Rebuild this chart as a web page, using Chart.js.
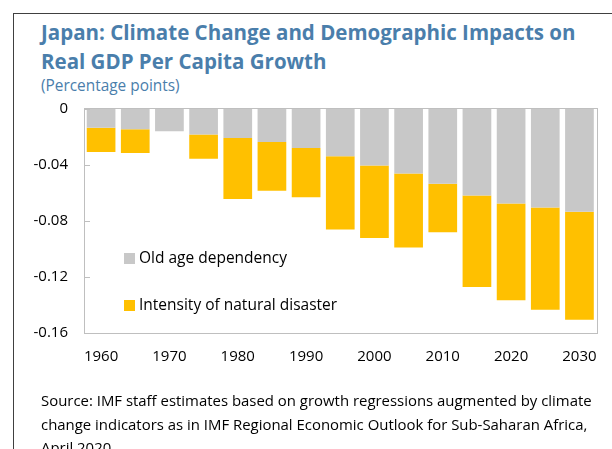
<!DOCTYPE html>
<html>
<head>
<meta charset="utf-8">
<script src="https://cdn.jsdelivr.net/npm/chart.js@4.4.1/dist/chart.umd.min.js"></script>
<style>
  html, body { margin: 0; padding: 0; width: 612px; height: 449px; overflow: hidden; background: #fff; }
  #frame { position: absolute; left: 13px; top: 13px; width: 800px; height: 700px; border: 1px solid #404040; box-sizing: border-box; }
  #title { position: absolute; left: 41px; top: 18px; font-family: "Open Sans", sans-serif; font-weight: bold; font-size: 20.5px; line-height: 29px; color: #4A7EAB; white-space: nowrap; }
  #subtitle { position: absolute; left: 41px; top: 75px; font-family: "Open Sans", sans-serif; font-size: 15.4px; color: #4A7EAB; white-space: nowrap; }
  #source { position: absolute; left: 41px; top: 389px; font-family: "Open Sans", sans-serif; font-size: 15px; line-height: 23.5px; color: #000; white-space: nowrap; }
  #source span { display: inline-block; }
  #wrap { position: absolute; left: 0; top: 0; width: 612px; height: 449px; }
</style>
</head>
<body>
<div id="frame"></div>
<div id="title">Japan: Climate Change and Demographic Impacts on<br>Real GDP Per Capita Growth</div>
<div id="subtitle">(Percentage points)</div>
<div id="wrap"><canvas id="c" width="612" height="449"></canvas></div>
<div id="source"><span id="src1">Source: IMF staff estimates based on growth regressions augmented by climate</span><br>change indicators as in IMF Regional Economic Outlook for Sub-Saharan Africa,<br>April 2020.</div>
<script>
// fit source text width to reference (first line ~551px wide)
(function(){
  const s1 = document.getElementById('src1');
  const w = s1.getBoundingClientRect().width;
  const target = 551;
  if (w > 0) document.getElementById('source').style.fontSize = (15 * target / w).toFixed(2) + 'px';
})();

const categories = ['1960','1965','1970','1975','1980','1985','1990','1995','2000','2005','2010','2015','2020','2025','2030'];
const oldAgeDependency = [-0.0135,-0.0145,-0.016,-0.0183,-0.0207,-0.0236,-0.0279,-0.0339,-0.0404,-0.0462,-0.0536,-0.062,-0.0677,-0.0706,-0.0735];
const naturalDisaster = [-0.0173,-0.017,0,-0.0173,-0.0437,-0.035,-0.0353,-0.0523,-0.052,-0.0529,-0.0347,-0.0654,-0.0693,-0.0731,-0.0774];
const yTicks = [0,-0.04,-0.08,-0.12,-0.16];
const seriesNames = ['Old age dependency','Intensity of natural disaster'];
const seriesColors = ['#C8C8C8','#FFC000'];

const boxPlugin = {
  id: 'box',
  afterDatasetsDraw(chart) {
    const {ctx, chartArea: a, scales} = chart;
    ctx.save();
    ctx.strokeStyle = '#BFBFBF';
    ctx.lineWidth = 1;
    ctx.strokeRect(Math.round(a.left)+0.5, Math.round(a.top)-0.5, Math.round(a.right-a.left), Math.round(a.bottom-a.top)+1);
    ctx.beginPath();
    yTicks.forEach(v => {
      const y = Math.round(scales.y.getPixelForValue(v)) + 0.5;
      ctx.moveTo(a.left, y); ctx.lineTo(a.left + 6, y);
    });
    ctx.stroke();
    // legend
    const items = [{y: 253}, {y: 300}];
    ctx.font = '15.5px "Open Sans", sans-serif';
    ctx.textBaseline = 'middle';
    chart.data.datasets.forEach((ds, i) => {
      const y = items[i].y;
      ctx.fillStyle = ds.backgroundColor;
      ctx.fillRect(124, y, 11, 11);
      ctx.fillStyle = '#000';
      ctx.fillText(ds.label, 139, y + 6);
    });
    ctx.restore();
  }
};

new Chart(document.getElementById('c'), {
  type: 'bar',
  data: {
    labels: categories,
    datasets: [
      { label: seriesNames[0], data: oldAgeDependency, backgroundColor: seriesColors[0], barPercentage: 0.84, categoryPercentage: 1.0 },
      { label: seriesNames[1], data: naturalDisaster, backgroundColor: seriesColors[1], barPercentage: 0.84, categoryPercentage: 1.0 }
    ]
  },
  options: {
    responsive: false,
    animation: false,
    layout: { padding: { left: 0, right: 12, top: 109, bottom: 0 } },
    plugins: { legend: { display: false }, tooltip: { enabled: false }, title: { display: false } },
    scales: {
      x: {
        stacked: true,
        grid: { display: false, drawTicks: false },
        border: { display: false },
        afterFit(s) { s.height = 116.5; },
        ticks: {
          autoSkip: false, maxRotation: 0, padding: 15,
          color: '#000', font: { family: '"Open Sans", sans-serif', size: 15 },
          callback(v, i) { return i % 2 === 0 ? categories[i] : ''; }
        }
      },
      y: {
        stacked: true,
        min: -0.16, max: 0,
        grid: { display: false, drawTicks: false },
        border: { display: false },
        afterFit(s) { s.width = 84; },
        afterBuildTicks(s) { s.ticks = yTicks.map(v => ({value: v})); },
        ticks: {
          padding: 16,
          color: '#000', font: { family: '"Open Sans", sans-serif', size: 15 },
          callback(v) { return v === 0 ? '0' : v.toFixed(2); }
        }
      }
    }
  },
  plugins: [boxPlugin]
});
</script>
</body>
</html>
